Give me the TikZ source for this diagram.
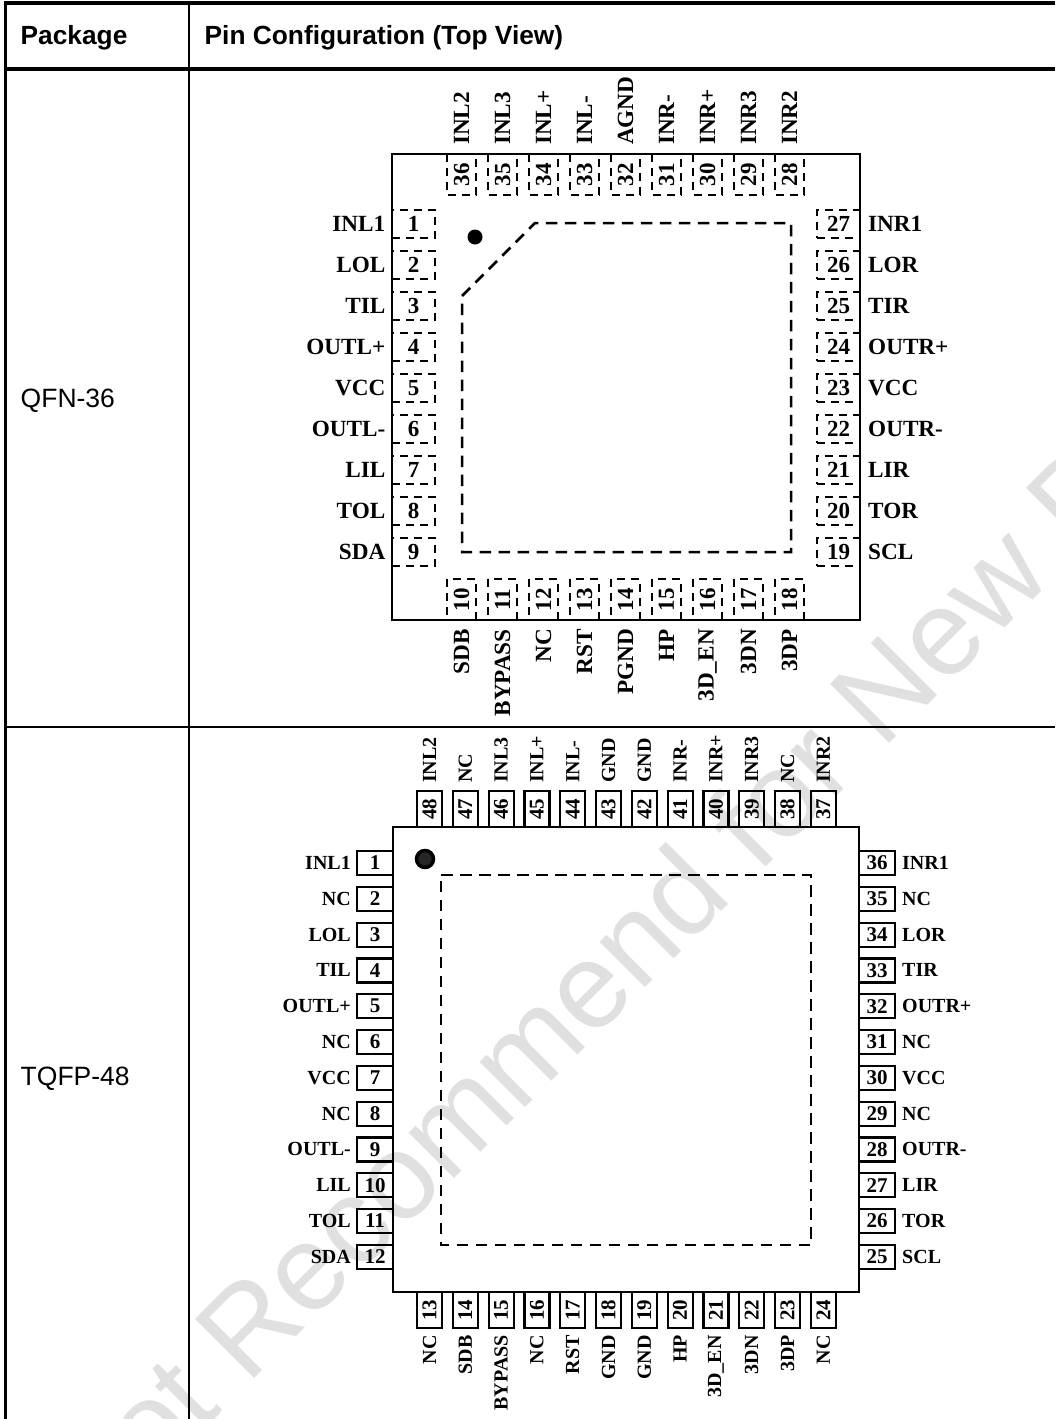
\documentclass[tikz,border=0pt]{standalone}
\usepackage{fontspec}
\setmainfont{Liberation Serif}
\newfontfamily\tablefont{Liberation Sans}
\usetikzlibrary{positioning}
\tikzset{
    rule/.style={black, line width=#1},
    headtext/.style={anchor=base west, inner sep=0pt, font=\tablefont\fontsize{26.3}{28}\selectfont\bfseries},
    pkgtext/.style={anchor=base west, inner sep=0pt, font=\tablefont\fontsize{26.5}{28}\selectfont},
    qfnpin/.style={draw, line width=2.2pt, dash pattern=on 8pt off 6pt, inner sep=0pt, outer sep=0pt, font=\fontsize{23}{23}\selectfont\bfseries},
    tqfppin/.style={draw, line width=2.2pt, inner sep=0pt, outer sep=0pt, font=\fontsize{21}{21}\selectfont\bfseries},
    qfnlabel/.style={inner sep=0pt, font=\fontsize{23.2}{23.2}\selectfont\bfseries},
    tqfplabel/.style={inner sep=0pt, font=\fontsize{20}{20}\selectfont\bfseries},
    padline/.style={line width=2.5pt, dash pattern=on 11.5pt off 7.5pt},
    bodyline/.style={line width=2.4pt},
}
\begin{document}
\begin{tikzpicture}[x=1pt, y=-1pt]
    \useasboundingbox (0,0) rectangle (1055,1419);

    % Watermark
    \node[rotate=45, anchor=base west, inner sep=0pt, text=black!12, font=\tablefont\fontsize{121.5}{121.5}\selectfont] (mark) at (90,1543) {Not Recommend for New D};

    % Table rules
    \draw[rule=4pt] (4,3) -- (1055,3);
    \draw[rule=3.8pt] (5.4,1) -- (5.4,1419);
    \draw[rule=2pt] (189,1) -- (189,1419);
    \draw[rule=4pt] (4,68.7) -- (1055,68.7);
    \draw[rule=2.3pt] (4,727.3) -- (1055,727.3);

    % Table text
    \node[headtext] (package) at (20.5,44.5) {Package};
    \node[headtext] (pinconfig) at (204.5,44.5) {Pin Configuration (Top View)};
    \node[pkgtext] (qfnname) at (20.5,407) {QFN-36};
    \node[pkgtext] (tqfpname) at (20.5,1085) {TQFP-48};

    % QFN-36 body
    \draw[bodyline] (392,154) rectangle (860,620);
    \draw[padline] (462,296) -- (535,223) -- (791,223) -- (791,552) -- (462,552) -- cycle;
    \fill (475,237) circle (7.5);

    \foreach \num/\name [count=\i from 0] in {36/INL2,35/INL3,34/INL+,33/INL-,32/AGND,31/INR-,30/INR+,29/INR3,28/INR2}{
        \node[qfnpin, rotate=90, minimum width=41pt, minimum height=29pt] (q\num) at (461.5+41*\i,174.5) {\num};
        \node[qfnlabel, rotate=90, anchor=west] (qn\num) at (461.5+41*\i,145) {\name};
    }
    \foreach \num/\name [count=\i from 0] in {10/SDB,11/BYPASS,12/NC,13/RST,14/PGND,15/HP,16/3D\_EN,17/3DN,18/3DP}{
        \node[qfnpin, rotate=90, minimum width=41pt, minimum height=29pt] (q\num) at (461.5+41*\i,599.5) {\num};
        \node[qfnlabel, rotate=90, anchor=east] (qn\num) at (461.5+41*\i,629) {\name};
    }
    \foreach \num/\name [count=\i from 0] in {1/INL1,2/LOL,3/TIL,4/OUTL+,5/VCC,6/OUTL-,7/LIL,8/TOL,9/SDA}{
        \node[qfnpin, minimum width=43pt, minimum height=28pt] (q\num) at (413.5,224+41*\i) {\num};
        \node[qfnlabel, left=6.5pt of q\num] (qn\num) {\name};
    }
    \foreach \num/\name [count=\i from 0] in {27/INR1,26/LOR,25/TIR,24/OUTR+,23/VCC,22/OUTR-,21/LIR,20/TOR,19/SCL}{
        \node[qfnpin, minimum width=43pt, minimum height=28pt] (q\num) at (838.5,224+41*\i) {\num};
        \node[qfnlabel, right=8pt of q\num] (qn\num) {\name};
    }

    % TQFP-48 body
    \draw[bodyline] (393,827) rectangle (859,1292);
    \draw[padline] (441,875) -- (811,875) -- (811,1245) -- (441,1245) -- cycle;
    \fill[black!85, draw=black, line width=3.5pt] (425,859) circle (8.5);

    \foreach \num/\name [count=\i from 0] in {48/INL2,47/NC,46/INL3,45/INL+,44/INL-,43/GND,42/GND,41/INR-,40/INR+,39/INR3,38/NC,37/INR2}{
        \node[tqfppin, rotate=90, minimum width=36pt, minimum height=25pt] (t\num) at (429.5+35.8*\i,809) {\num};
        \node[tqfplabel, rotate=90, anchor=west] (tn\num) at (429.5+35.8*\i,783) {\name};
    }
    \foreach \num/\name [count=\i from 0] in {13/NC,14/SDB,15/BYPASS,16/NC,17/RST,18/GND,19/GND,20/HP,21/3D\_EN,22/3DN,23/3DP,24/NC}{
        \node[tqfppin, rotate=90, minimum width=36pt, minimum height=25pt] (t\num) at (429.5+35.8*\i,1310) {\num};
        \node[tqfplabel, rotate=90, anchor=east] (tn\num) at (429.5+35.8*\i,1335) {\name};
    }
    \foreach \num/\name [count=\i from 0] in {1/INL1,2/NC,3/LOL,4/TIL,5/OUTL+,6/NC,7/VCC,8/NC,9/OUTL-,10/LIL,11/TOL,12/SDA}{
        \node[tqfppin, minimum width=36pt, minimum height=24pt] (t\num) at (375,863+35.8*\i) {\num};
        \node[tqfplabel, left=6pt of t\num] (tn\num) {\name};
    }
    \foreach \num/\name [count=\i from 0] in {36/INR1,35/NC,34/LOR,33/TIR,32/OUTR+,31/NC,30/VCC,29/NC,28/OUTR-,27/LIR,26/TOR,25/SCL}{
        \node[tqfppin, minimum width=36pt, minimum height=24pt] (t\num) at (877,863+35.8*\i) {\num};
        \node[tqfplabel, right=7pt of t\num] (tn\num) {\name};
    }
\end{tikzpicture}
\end{document}
